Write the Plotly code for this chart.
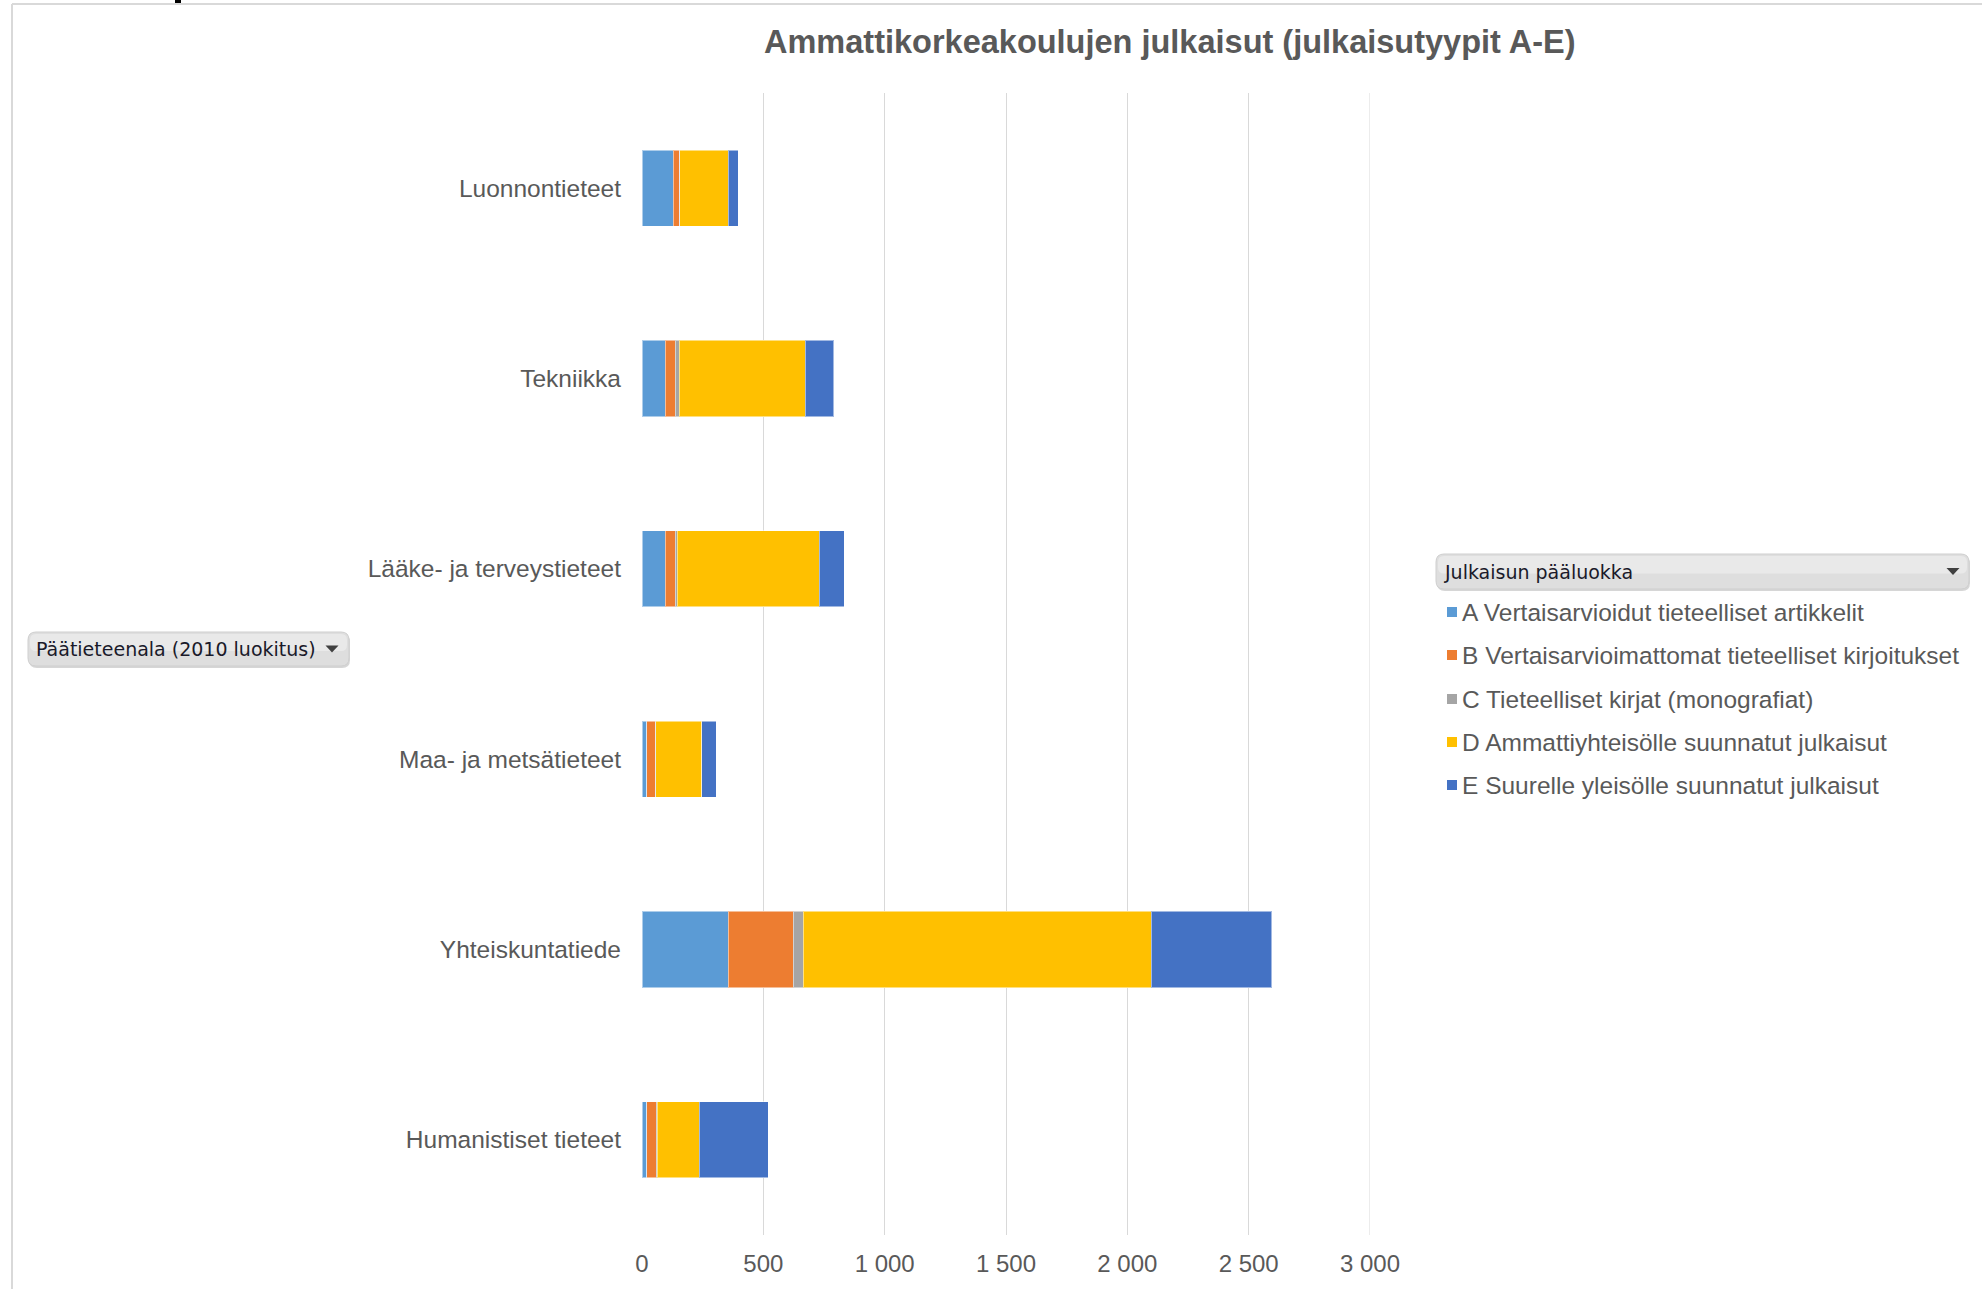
import plotly.graph_objects as go

W, H = 1982, 1289
# plot area in pixels
PL, PR, PT, PB = 642, 1370, 93, 1235

categories = ["Luonnontieteet", "Tekniikka", "Lääke- ja terveystieteet",
              "Maa- ja metsätieteet", "Yhteiskuntatiede", "Humanistiset tieteet"]
series_names = ["A Vertaisarvioidut tieteelliset artikkelit",
                "B Vertaisarvioimattomat tieteelliset kirjoitukset",
                "C Tieteelliset kirjat (monografiat)",
                "D Ammattiyhteisölle suunnatut julkaisut",
                "E Suurelle yleisölle suunnatut julkaisut"]
A_vals = [129, 95, 95, 19, 356, 19]
B_vals = [25, 42, 42, 35, 267, 39]
C_vals = [2, 17, 9, 2, 42, 5]
D_vals = [200, 519, 585, 190, 1433, 173]
E_vals = [41, 118, 102, 59, 498, 285]
x_tick_vals = [0, 500, 1000, 1500, 2000, 2500, 3000]
x_tick_labels = ["0", "500", "1 000", "1 500", "2 000", "2 500", "3 000"]
title_text = "Ammattikorkeakoulujen julkaisut (julkaisutyypit A-E)"
legend_header = "Julkaisun pääluokka"
filter_label = "Päätieteenala (2010 luokitus)"

colors = ["#5B9BD5", "#ED7D31", "#A5A5A5", "#FFC000", "#4472C4"]
series_vals = [A_vals, B_vals, C_vals, D_vals, E_vals]

FONT = "Arial, Liberation Sans, sans-serif"
GREY = "#595959"
GRID = "#d9d9d9"

def px(x):
    return (x - PL) / (PR - PL)

def py(y):
    return (PB - y) / (PB - PT)

fig = go.Figure()
for name, vals, col in zip(series_names, series_vals, colors):
    fig.add_trace(go.Bar(
        y=categories, x=vals, name=name, orientation="h",
        marker=dict(color=col, line=dict(color="rgba(255,255,255,0.5)", width=1)),
        showlegend=False,
    ))

shapes = []
annotations = []

# last gridline at the right edge of the axis range
shapes.append(dict(type="line", xref="x", yref="paper", x0=x_tick_vals[-1], x1=x_tick_vals[-1], y0=0, y1=1,
                   line=dict(color=GRID, width=1), layer="below"))

# frame lines
shapes.append(dict(type="line", xref="paper", yref="paper", x0=px(12), x1=px(12), y0=py(4), y1=py(H),
                   line=dict(color=GRID, width=2), layer="below"))
shapes.append(dict(type="line", xref="paper", yref="paper", x0=px(12), x1=px(W), y0=py(4), y1=py(4),
                   line=dict(color=GRID, width=2), layer="below"))
shapes.append(dict(type="rect", xref="paper", yref="paper", x0=px(175), x1=px(181), y0=py(0), y1=py(3),
                   fillcolor="black", line=dict(width=0)))

def rounded(x0, y0, x1, y1, r):
    def P(x, y):
        return f"{px(x)},{py(y)}"
    path = (f"M {P(x0 + r, y0)} L {P(x1 - r, y0)} Q {P(x1, y0)} {P(x1, y0 + r)} "
            f"L {P(x1, y1 - r)} Q {P(x1, y1)} {P(x1 - r, y1)} L {P(x0 + r, y1)} "
            f"Q {P(x0, y1)} {P(x0, y1 - r)} L {P(x0, y0 + r)} Q {P(x0, y0)} {P(x0 + r, y0)} Z")
    return path

def triangle(cx, cy, w, h):
    return (f"M {px(cx - w/2)},{py(cy - h/2)} L {px(cx + w/2)},{py(cy - h/2)} "
            f"L {px(cx)},{py(cy + h/2)} Z")

def button(x0, y0, x1, y1, label, tri_x):
    shapes.append(dict(type="path", xref="paper", yref="paper", path=rounded(x0 + 1, y0 + 2, x1 + 1, y1 + 2, 8),
                       fillcolor="#d6d6d6", line=dict(width=0), layer="above"))
    shapes.append(dict(type="path", xref="paper", yref="paper", path=rounded(x0, y0, x1, y1, 8),
                       fillcolor="#dedede", line=dict(color="#cfcfcf", width=1), layer="above"))
    shapes.append(dict(type="path", xref="paper", yref="paper", path=rounded(x0 + 2, y0 + 2, x1 - 2, (y0 + y1) / 2 + 2, 6),
                       fillcolor="#e9e9e9", line=dict(width=0), layer="above"))
    shapes.append(dict(type="path", xref="paper", yref="paper", path=triangle(tri_x, (y0 + y1) / 2, 13, 7),
                       fillcolor="#404040", line=dict(width=0), layer="above"))
    annotations.append(dict(text=label, xref="paper", yref="paper", x=px(x0 + 6), y=py((y0 + y1) / 2),
                            xanchor="left", yanchor="middle", showarrow=False,
                            font=dict(family="DejaVu Sans, sans-serif", size=19, color="#1a1a2a")))

button(28, 632, 349, 666, filter_label, 332)
button(1436, 554, 1969, 589, legend_header, 1953)

# legend entries
leg_y = [612, 655, 699, 742, 785]
for name, col, yy in zip(series_names, colors, leg_y):
    shapes.append(dict(type="rect", xref="paper", yref="paper", x0=px(1447), x1=px(1457),
                       y0=py(yy - 5), y1=py(yy + 5), fillcolor=col, line=dict(width=0)))
    annotations.append(dict(text=name, xref="paper", yref="paper", x=px(1460), y=py(yy),
                            xanchor="left", yanchor="middle", showarrow=False,
                            font=dict(family=FONT, size=24.5, color=GREY)))

annotations.append(dict(text="<b>" + title_text + "</b>", xref="paper", yref="paper",
                        x=px(1169), y=py(42), xanchor="center", yanchor="middle", showarrow=False,
                        font=dict(family=FONT, size=32.5, color=GREY)))

fig.update_layout(
    width=W, height=H,
    margin=dict(l=PL, r=W - PR, t=PT, b=H - PB, pad=0),
    paper_bgcolor="white", plot_bgcolor="white",
    barmode="stack", bargap=0.6,
    shapes=shapes, annotations=annotations,
    font=dict(family=FONT, color=GREY, size=24),
)
fig.update_xaxes(range=[0, 3000], tickvals=x_tick_vals, ticktext=x_tick_labels,
                 showgrid=True, gridcolor=GRID, gridwidth=1, zeroline=False,
                 showline=False, ticks="", ticklabelstandoff=12,
                 tickfont=dict(family=FONT, size=24, color=GREY))
fig.update_yaxes(autorange="reversed", showgrid=False, showline=False, ticks="",
                 ticklabelstandoff=20, tickfont=dict(family=FONT, size=24.5, color=GREY))

fig.write_html("out.html", config={"displayModeBar": False},
               post_script="document.body.style.margin='0';document.body.style.overflow='hidden';")
